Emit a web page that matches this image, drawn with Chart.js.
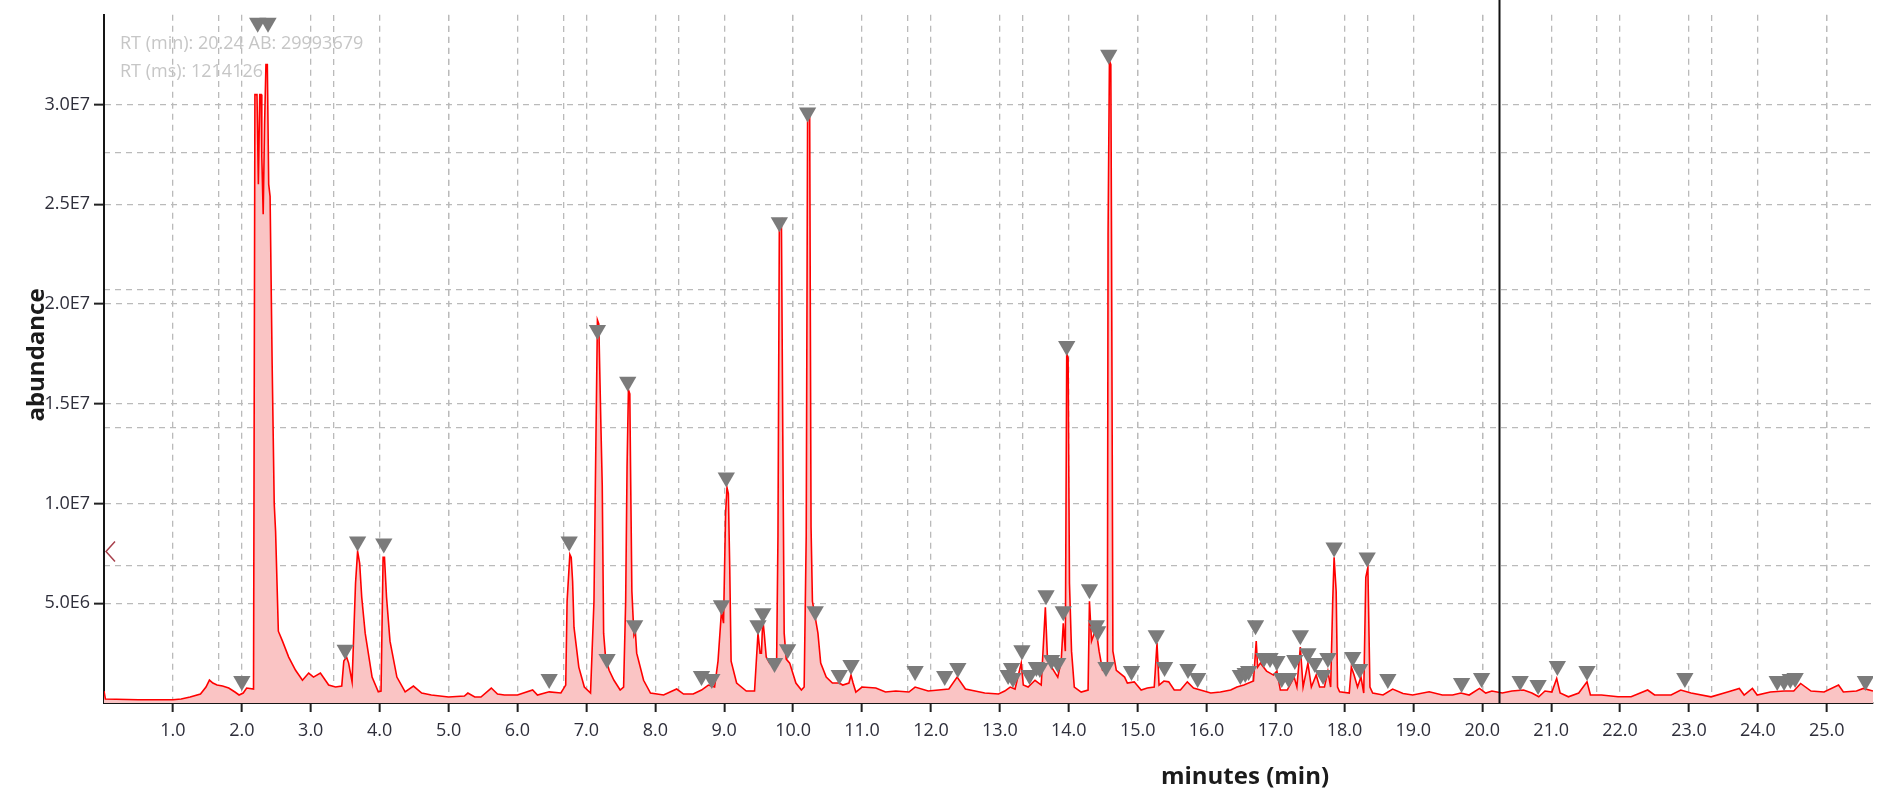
<!DOCTYPE html>
<html>
<head>
<meta charset="utf-8">
<script src="https://cdn.jsdelivr.net/npm/chart.js@4.4.1/dist/chart.umd.min.js"></script>
<style>
  html, body { margin: 0; padding: 0; background: #ffffff; }
  #wrap { width: 1883px; height: 795px; position: relative; }
  canvas { display: block; }
</style>
</head>
<body>
<div id="wrap"><canvas id="c" width="1883" height="795"></canvas></div>
<script>
// ---- DATA (retention time in minutes, abundance in millions) ----
const traceMinutes = [
  0.00, 0.02, 0.50, 1.00, 1.12, 1.25, 1.40, 1.48, 1.53, 1.58, 1.64, 1.72, 1.81, 1.90, 1.96, 2.02, 2.07, 2.17,
  2.19, 2.22, 2.24, 2.26, 2.28, 2.29, 2.31, 2.33, 2.35, 2.37, 2.39, 2.41, 2.44, 2.47, 2.49, 2.53, 2.59, 2.68,
  2.78, 2.88, 2.97, 3.04, 3.14, 3.26, 3.36, 3.45, 3.48, 3.52, 3.55, 3.60, 3.65, 3.68, 3.71, 3.74, 3.79, 3.89,
  3.98, 4.02, 4.05, 4.07, 4.10, 4.15, 4.25, 4.37, 4.49, 4.61, 4.75, 5.00, 5.23, 5.28, 5.38, 5.47, 5.62, 5.71,
  5.81, 6.00, 6.22, 6.29, 6.46, 6.63, 6.70, 6.72, 6.76, 6.78, 6.80, 6.82, 6.89, 6.97, 7.06, 7.11, 7.13, 7.16,
  7.18, 7.21, 7.23, 7.25, 7.28, 7.30, 7.33, 7.40, 7.49, 7.54, 7.57, 7.59, 7.61, 7.63, 7.64, 7.66, 7.69, 7.71,
  7.73, 7.83, 7.93, 8.12, 8.31, 8.41, 8.55, 8.67, 8.77, 8.86, 8.91, 8.96, 8.99, 9.02, 9.04, 9.06, 9.08, 9.10,
  9.18, 9.32, 9.44, 9.49, 9.52, 9.54, 9.56, 9.58, 9.61, 9.66, 9.73, 9.76, 9.78, 9.80, 9.83, 9.85, 9.87, 9.90,
  9.95, 10.04, 10.12, 10.16, 10.19, 10.21, 10.24, 10.26, 10.28, 10.32, 10.36, 10.40, 10.48, 10.57, 10.67, 10.72,
  10.81, 10.84, 10.87, 10.91, 11.00, 11.20, 11.34, 11.49, 11.68, 11.77, 11.96, 12.11, 12.26, 12.38, 12.50, 12.64,
  12.78, 12.98, 13.07, 13.15, 13.22, 13.31, 13.34, 13.41, 13.51, 13.60, 13.66, 13.69, 13.75, 13.84, 13.89, 13.92,
  13.95, 13.97, 13.99, 14.01, 14.04, 14.08, 14.18, 14.28, 14.30, 14.33, 14.37, 14.40, 14.44, 14.49, 14.54, 14.56,
  14.57, 14.59, 14.61, 14.62, 14.64, 14.69, 14.81, 14.85, 14.95, 15.05, 15.14, 15.24, 15.28, 15.31, 15.38, 15.45,
  15.53, 15.62, 15.72, 15.81, 15.91, 16.06, 16.20, 16.35, 16.44, 16.54, 16.68, 16.72, 16.74, 16.78, 16.87, 16.97,
  17.02, 17.07, 17.17, 17.27, 17.31, 17.36, 17.40, 17.47, 17.52, 17.59, 17.64, 17.71, 17.76, 17.80, 17.83, 17.85,
  17.88, 17.90, 17.93, 18.07, 18.10, 18.14, 18.19, 18.24, 18.28, 18.31, 18.34, 18.37, 18.41, 18.56, 18.70, 18.85,
  18.99, 19.23, 19.42, 19.57, 19.69, 19.81, 19.96, 20.05, 20.14, 20.29, 20.43, 20.60, 20.72, 20.82, 20.91, 21.01,
  21.08, 21.13, 21.25, 21.40, 21.52, 21.57, 21.73, 21.97, 22.16, 22.40, 22.50, 22.74, 22.88, 23.03, 23.32, 23.56,
  23.73, 23.80, 23.92, 23.99, 24.18, 24.38, 24.52, 24.62, 24.77, 24.96, 25.17, 25.24, 25.43, 25.53, 25.67
];
const traceAbundanceMillions = [
  0.60, 0.20, 0.16, 0.16, 0.20, 0.30, 0.45, 0.80, 1.15, 1.00, 0.90, 0.85, 0.75, 0.55, 0.40, 0.50, 0.75, 0.70,
  30.5, 30.5, 26.0, 30.5, 30.5, 27.4, 24.5, 29.0, 32.0, 32.0, 26.0, 25.4, 17.0, 10.0, 8.6, 3.6, 3.1, 2.3,
  1.64, 1.14, 1.50, 1.30, 1.50, 0.90, 0.80, 0.85, 2.10, 2.30, 2.00, 1.06, 6.0, 7.6, 7.0, 5.3, 3.5, 1.3,
  0.56, 0.60, 7.3, 7.3, 5.3, 3.1, 1.3, 0.56, 0.85, 0.50, 0.40, 0.30, 0.35, 0.50, 0.30, 0.30, 0.75, 0.45,
  0.40, 0.40, 0.65, 0.40, 0.56, 0.50, 0.90, 5.1, 7.45, 7.3, 6.1, 3.8, 1.8, 0.80, 0.50, 5.1, 10.9, 19.2,
  19.0, 14.0, 10.9, 3.5, 2.2, 2.0, 1.64, 1.14, 0.65, 0.80, 5.1, 11.8, 15.7, 15.5, 12.0, 5.6, 3.4, 3.6,
  2.5, 1.14, 0.50, 0.40, 0.70, 0.45, 0.45, 0.65, 0.90, 0.80, 2.1, 4.6, 4.0, 9.5, 10.8, 10.5, 6.8, 2.1,
  1.0, 0.60, 0.60, 3.5, 2.5, 2.5, 4.2, 3.5, 2.3, 2.0, 1.8, 1.9, 8.4, 24.0, 24.2, 13.4, 3.5, 2.2,
  2.0, 1.0, 0.65, 0.80, 8.4, 29.5, 29.6, 8.8, 5.1, 4.3, 3.5, 2.0, 1.3, 1.0, 1.0, 0.90,
  1.0, 1.4, 1.0, 0.55, 0.80, 0.75, 0.55, 0.60, 0.55, 0.80, 0.60, 0.65, 0.70, 1.30, 0.70, 0.60,
  0.50, 0.45, 0.60, 0.80, 0.70, 2.0, 0.90, 0.80, 1.14, 0.90, 4.8, 2.3, 1.8, 1.3, 2.1, 4.0,
  2.6, 17.5, 17.3, 6.0, 2.6, 0.80, 0.55, 0.65, 5.1, 3.1, 3.5, 3.6, 2.6, 1.64, 1.7, 1.8,
  23.5, 32.2, 32.0, 23.5, 2.6, 1.64, 1.3, 1.0, 1.06, 0.65, 0.75, 0.80, 3.0, 0.90, 1.1, 1.06,
  0.65, 0.65, 1.06, 0.75, 0.65, 0.50, 0.55, 0.65, 0.80, 0.90, 1.1, 3.1, 1.8, 2.0, 1.6, 1.4,
  1.6, 0.65, 0.65, 1.3, 0.80, 2.8, 0.80, 2.0, 0.80, 1.4, 0.80, 0.80, 1.6, 0.80, 5.1, 7.3,
  5.6, 0.80, 0.56, 0.50, 1.8, 1.4, 0.80, 1.3, 0.50, 6.3, 6.8, 0.80, 0.50, 0.40, 0.70, 0.48,
  0.40, 0.56, 0.40, 0.40, 0.50, 0.40, 0.73, 0.50, 0.60, 0.50, 0.60, 0.65, 0.50, 0.31, 0.60, 0.55,
  1.23, 0.50, 0.31, 0.50, 1.06, 0.40, 0.40, 0.31, 0.31, 0.65, 0.40, 0.40, 0.65, 0.50, 0.31, 0.55,
  0.73, 0.40, 0.73, 0.40, 0.55, 0.60, 0.60, 0.98, 0.60, 0.55, 0.90, 0.55, 0.60, 0.73, 0.60
];
const peakMinutes = [
  2.00, 2.23, 2.38, 3.50, 3.68, 4.06, 6.46, 6.75, 7.16, 7.30, 7.60, 7.70, 8.67, 8.82, 8.96, 9.03, 9.49, 9.56,
  9.73, 9.80, 9.92, 10.21, 10.32, 10.67, 10.84, 11.77, 12.20, 12.39, 13.12, 13.17, 13.19, 13.32, 13.43, 13.53,
  13.58, 13.67, 13.75, 13.84, 13.92, 13.97, 14.30, 14.40, 14.42, 14.54, 14.58, 14.91, 15.27, 15.39, 15.73, 15.87,
  16.49, 16.56, 16.61, 16.71, 16.83, 16.92, 17.02, 17.09, 17.19, 17.28, 17.36, 17.47, 17.57, 17.69, 17.76, 17.85,
  18.12, 18.22, 18.33, 18.63, 19.70, 19.99, 20.55, 20.81, 21.09, 21.52, 22.94, 24.28, 24.38, 24.47, 24.54, 25.56
];
const peakAbundanceMillions = [
  1.10, 34.1, 34.1, 2.67, 8.1, 8.0, 1.2, 8.1, 18.7, 2.2, 16.1, 3.9, 1.35, 1.2, 4.9, 11.3, 3.9, 4.5,
  2.0, 24.1, 2.7, 29.6, 4.6, 1.4, 1.9, 1.6, 1.35, 1.75, 1.4, 1.75, 1.25, 2.65, 1.4, 1.8,
  1.75, 5.4, 2.15, 2.0, 4.6, 17.9, 5.7, 3.9, 3.6, 1.8, 32.5, 1.6, 3.4, 1.8, 1.7, 1.25,
  1.4, 1.5, 1.6, 3.9, 2.25, 2.25, 2.1, 1.25, 1.25, 2.15, 3.4, 2.5, 2.0, 1.4, 2.25, 7.8,
  2.3, 1.7, 7.3, 1.2, 1.0, 1.25, 1.1, 0.9, 1.85, 1.6, 1.25, 1.1, 1.1, 1.2, 1.25, 1.1
];
const xTickValues = [1,2,3,4,5,6,7,8,9,10,11,12,13,14,15,16,17,18,19,20,21,22,23,24,25];
const yTickValues = [5e6, 1e7, 1.5e7, 2e7, 2.5e7, 3e7];
const xRange = [0, 25.67];
const yRange = [0, 3.45e7];
const xSecondaryGridStep = 5 / 3;   // second dashed grid (minutes)
const ySecondaryGridStep = 6.9e6;   // second dashed grid (abundance)
const cursorMinutes = 20.24;        // vertical cursor line
const cursorAbundance = 7.6e6;      // cursor marker on y axis
const infoLines = ['RT (min): 20.24 AB: 29993679', 'RT (ms): 1214126'];
const xTitle = 'minutes (min)';
const yTitle = 'abundance';

// ---- build chart ----
const SCALE_M = 1e6;
const tracePoints = traceMinutes.map((t, i) => ({ x: t, y: traceAbundanceMillions[i] * SCALE_M }));
const peakPoints = peakMinutes.map((t, i) => ({ x: t, y: peakAbundanceMillions[i] * SCALE_M }));

const GRID = '#bababa';
const DASH = [6, 5];
const TICK_FONT = { family: "'Open Sans', 'Noto Sans', sans-serif", size: 18 };
const TICK_COLOR = '#2e2e3a';

function fmtY(v) {
  return v.toExponential(1).toUpperCase().replace('E+', 'E');
}

const overlay = {
  id: 'overlay',
  beforeDatasetsDraw(chart) {
    const ctx = chart.ctx;
    ctx.save();
    ctx.fillStyle = '#c6c6c6';
    ctx.font = "18px 'Open Sans', 'Noto Sans', sans-serif";
    ctx.textBaseline = 'middle';
    ctx.textAlign = 'left';
    ctx.fillText(infoLines[0], 120, 44);
    ctx.fillText(infoLines[1], 120, 72);
    ctx.restore();
  },
  afterDatasetsDraw(chart) {
    const ctx = chart.ctx;
    const xs = chart.scales.x, ys = chart.scales.y;
    const ca = chart.chartArea;
    ctx.save();
    const cx = Math.round(xs.getPixelForValue(cursorMinutes)) + 0.5;
    ctx.strokeStyle = '#111111';
    ctx.lineWidth = 2;
    ctx.beginPath();
    ctx.moveTo(cx, 0);
    ctx.lineTo(cx, ca.bottom);
    ctx.stroke();
    const cy = ys.getPixelForValue(cursorAbundance);
    ctx.strokeStyle = '#a8404c';
    ctx.lineWidth = 1.5;
    ctx.beginPath();
    ctx.moveTo(ca.left + 11, cy - 10);
    ctx.lineTo(ca.left + 2, cy);
    ctx.lineTo(ca.left + 11, cy + 10);
    ctx.stroke();
    ctx.restore();
  },
  afterDraw(chart) {
    const ctx = chart.ctx;
    ctx.save();
    ctx.fillStyle = '#1b1b1b';
    ctx.font = "bold 24px 'Open Sans', 'Noto Sans', sans-serif";
    ctx.textAlign = 'center';
    ctx.textBaseline = 'middle';
    ctx.fillText(xTitle, 1245, 777);
    ctx.translate(37, 355);
    ctx.rotate(-Math.PI / 2);
    ctx.fillText(yTitle, 0, 0);
    ctx.restore();
  }
};

new Chart(document.getElementById('c'), {
  type: 'line',
  data: {
    datasets: [
      {
        label: 'peaks',
        data: peakPoints,
        showLine: false,
        pointStyle: 'triangle',
        rotation: 180,
        pointRadius: 10,
        pointBackgroundColor: '#7b7b7b',
        pointBorderColor: '#7b7b7b',
        pointBorderWidth: 0,
        xAxisID: 'x', yAxisID: 'y'
      },
      {
        label: 'TIC',
        data: tracePoints,
        borderColor: '#ff0000',
        borderWidth: 1.6,
        backgroundColor: 'rgba(250, 196, 196, 1)',
        fill: 'origin',
        pointRadius: 0,
        tension: 0,
        xAxisID: 'x', yAxisID: 'y'
      }
    ]
  },
  options: {
    responsive: false,
    animation: false,
    events: [],
    layout: { padding: { top: 10, right: 0, left: 0, bottom: 0 } },
    plugins: { legend: { display: false }, tooltip: { enabled: false }, title: { display: false } },
    scales: {
      x: {
        type: 'linear', position: 'bottom', min: xRange[0], max: xRange[1],
        afterBuildTicks: s => { s.ticks = [{ value: 0 }].concat(xTickValues.map(v => ({ value: v }))); },
        afterFit: s => { s.height = 92; },
        ticks: {
          autoSkip: false, maxRotation: 0, minRotation: 0, padding: 8,
          font: TICK_FONT, color: TICK_COLOR,
          callback: v => (v === 0 ? '' : Number(v).toFixed(1))
        },
        grid: {
          color: c => (c.tick && c.tick.value === 0 ? 'rgba(0,0,0,0)' : GRID),
          lineWidth: 1.3, drawTicks: true, tickLength: 9, tickWidth: 2,
          tickColor: c => (c.tick && c.tick.value === 0 ? 'rgba(0,0,0,0)' : '#222222')
        },
        border: { display: true, color: '#151515', width: 2, dash: DASH }
      },
      y: {
        type: 'linear', position: 'left', min: yRange[0], max: yRange[1],
        afterBuildTicks: s => { s.ticks = [{ value: 0 }].concat(yTickValues.map(v => ({ value: v }))); },
        afterFit: s => { s.width = 104; },
        ticks: {
          padding: 4, font: TICK_FONT, color: TICK_COLOR,
          callback: v => (v === 0 ? '' : fmtY(v))
        },
        grid: {
          color: c => (c.tick && c.tick.value === 0 ? 'rgba(0,0,0,0)' : GRID),
          lineWidth: 1.3, drawTicks: true, tickLength: 10, tickWidth: 2,
          tickColor: c => (c.tick && c.tick.value === 0 ? 'rgba(0,0,0,0)' : '#222222')
        },
        border: { display: true, color: '#151515', width: 2, dash: DASH }
      },
      x2: {
        type: 'linear', position: 'top', min: xRange[0], max: xRange[1],
        afterBuildTicks: s => {
          const t = [];
          for (let k = 1; k * xSecondaryGridStep <= xRange[1] + 1e-9; k++) t.push({ value: k * xSecondaryGridStep });
          s.ticks = t;
        },
        afterFit: s => { s.height = 0; },
        ticks: { display: false },
        grid: { color: GRID, lineWidth: 1.3, drawTicks: false },
        border: { display: false, dash: DASH }
      },
      y2: {
        type: 'linear', position: 'right', min: yRange[0], max: yRange[1],
        afterBuildTicks: s => {
          const t = [];
          for (let k = 1; k * ySecondaryGridStep < yRange[1] - 1; k++) t.push({ value: k * ySecondaryGridStep });
          s.ticks = t;
        },
        afterFit: s => { s.width = 0; },
        ticks: { display: false },
        grid: { color: GRID, lineWidth: 1.3, drawTicks: false },
        border: { display: false, dash: DASH }
      }
    }
  },
  plugins: [overlay]
});
</script>
</body>
</html>
